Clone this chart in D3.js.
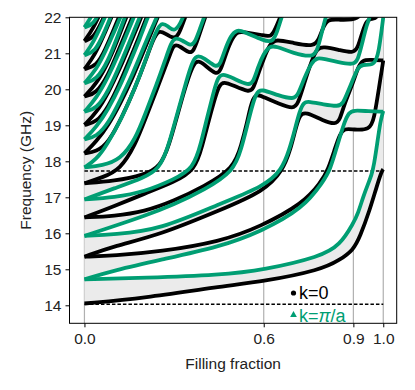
<!DOCTYPE html>
<html lang="en">
<head>
<meta charset="utf-8">
<title>Bands vs filling fraction</title>
<script src="https://d3js.org/d3.v7.min.js"></script>
<style>
  body { margin: 0; background: #fff; }
  text { font-family: "Liberation Sans", Arial, sans-serif; }
</style>
</head>
<body>
<div id="chart"></div>
<script>
// tick values
var xTicks = [0.0, 0.6, 0.9, 1.0];
var yTicks = [14, 15, 16, 17, 18, 19, 20, 21, 22];
// dashed cutoff lines (GHz)
var cutoffs = [14.03, 17.73];

// band edges: [filling fraction, GHz], k = 0 (black), band 1..18
var kZero = [
  [[0,14.05],[0.2,14.2],[0.45,14.52],[0.6,14.66],[0.79,14.98],[0.855,15.26],[0.9,15.54],[0.922,15.9],[0.955,16.65],[0.978,17.3],[0.995,17.73],[1.0,17.78]],
  [[0,15.35],[0.1,15.38],[0.253,15.49],[0.455,15.77],[0.588,16.18],[0.732,16.83],[0.79,17.4],[0.815,17.75],[0.84,18.4],[0.855,18.75],[0.87,18.92],[0.9,18.88],[0.955,18.86],[0.97,19.2],[0.985,20.0],[1.0,20.8]],
  [[0,15.35],[0.1,15.65],[0.253,15.96],[0.455,16.65],[0.6,17.16],[0.665,17.75],[0.69,18.35],[0.705,18.85],[0.72,19.3],[0.74,19.38],[0.8,19.12],[0.84,19.02],[0.855,19.15],[0.87,19.6],[0.9,20.2],[0.915,20.6],[0.93,20.82],[0.96,20.82],[1.0,20.8]],
  [[0,16.44],[0.1,16.48],[0.2,16.6],[0.3,16.9],[0.4,17.3],[0.5,17.8],[0.525,18.45],[0.545,19.1],[0.555,19.5],[0.57,19.9],[0.6,19.78],[0.65,19.6],[0.7,19.45],[0.715,19.6],[0.735,20.15],[0.76,20.8],[0.78,21.15],[0.8,21.18],[0.85,21.1],[0.9,21.0],[0.915,21.15],[0.93,21.6],[0.945,21.92],[0.96,21.96],[0.98,21.96],[0.99,22.3],[1,23]],
  [[0,16.44],[0.1,16.75],[0.2,17.1],[0.3,17.42],[0.37,17.75],[0.395,18.45],[0.415,19.1],[0.435,19.7],[0.45,20.1],[0.465,20.22],[0.5,20.1],[0.55,19.92],[0.565,20.0],[0.58,20.4],[0.6,20.85],[0.62,21.25],[0.64,21.4],[0.7,21.28],[0.77,21.18],[0.785,21.4],[0.8,21.75],[0.815,21.95],[0.85,21.93],[0.92,21.92],[0.935,22.3],[0.96,23],[1,26]],
  [[0,17.39],[0.1,17.45],[0.2,17.62],[0.255,17.85],[0.285,18.5],[0.305,19.1],[0.325,19.7],[0.345,20.25],[0.365,20.7],[0.38,20.8],[0.4,20.7],[0.44,20.4],[0.455,20.5],[0.47,20.9],[0.49,21.35],[0.51,21.6],[0.53,21.6],[0.6,21.5],[0.625,21.45],[0.64,21.7],[0.655,22.0],[0.67,22.3],[0.7,23],[1,26]],
  [[0,17.39],[0.06,17.55],[0.12,17.77],[0.17,18.45],[0.205,19.2],[0.24,19.95],[0.27,20.6],[0.29,21.05],[0.3,21.25],[0.32,21.2],[0.35,21.0],[0.365,21.05],[0.38,21.4],[0.4,21.9],[0.42,22.4],[0.45,23],[1,26]],
  [[0,18.22],[0.04,18.27],[0.08,18.5],[0.13,19.3],[0.17,20.05],[0.205,20.8],[0.23,21.4],[0.25,21.65],[0.27,21.55],[0.3,21.4],[0.315,21.5],[0.335,21.95],[0.35,22.3],[0.38,23],[1,26]],
  [[0,18.22],[0.04,18.55],[0.08,19.0],[0.12,19.6],[0.16,20.3],[0.19,20.9],[0.22,21.5],[0.245,22.0],[0.265,22.4],[0.29,23],[1,26]],
  [[0,19.01],[0.04,19.08],[0.08,19.5],[0.12,20.2],[0.155,20.9],[0.185,21.5],[0.21,22.05],[0.23,22.4],[0.26,23],[1,26]],
  [[0,19.01],[0.04,19.35],[0.08,19.9],[0.12,20.6],[0.15,21.2],[0.18,21.8],[0.2,22.2],[0.23,23],[1,26]],
  [[0,19.8],[0.04,19.88],[0.08,20.4],[0.11,21.0],[0.14,21.6],[0.165,22.1],[0.18,22.4],[0.21,23],[1,26]],
  [[0,19.8],[0.04,20.15],[0.08,20.75],[0.11,21.35],[0.135,21.9],[0.15,22.2],[0.18,23],[1,26]],
  [[0,20.56],[0.04,20.64],[0.07,21.1],[0.1,21.7],[0.12,22.1],[0.14,22.5],[0.17,23],[1,26]],
  [[0,20.56],[0.035,20.95],[0.065,21.5],[0.09,22.0],[0.11,22.4],[0.14,23],[1,26]],
  [[0,21.34],[0.03,21.42],[0.06,21.9],[0.08,22.3],[0.11,23],[1,26]],
  [[0,21.34],[0.03,21.7],[0.055,22.15],[0.075,22.5],[0.1,23],[1,26]],
  [[0,22.1],[0.03,22.2],[0.06,23],[1,26]]
];

// band edges, k = pi/a (green), band 1..18
var kPi = [
  [[0,14.72],[0.2,14.76],[0.455,14.84],[0.6,14.98],[0.79,15.35],[0.855,15.67],[0.9,16.28],[0.916,16.56],[0.933,17.02],[0.95,17.39],[0.961,17.62],[0.969,17.9],[0.98,18.5],[0.99,19.1],[1.0,19.4]],
  [[0,14.72],[0.1,14.97],[0.253,15.26],[0.455,15.63],[0.588,16.04],[0.732,16.69],[0.8,17.45],[0.822,17.76],[0.845,18.4],[0.87,19.1],[0.885,19.35],[0.9,19.42],[0.95,19.39],[1.0,19.38]],
  [[0,15.93],[0.1,15.97],[0.253,16.1],[0.455,16.83],[0.6,17.3],[0.66,17.75],[0.685,18.3],[0.705,18.9],[0.72,19.4],[0.735,19.65],[0.75,19.66],[0.8,19.58],[0.85,19.52],[0.865,19.6],[0.88,19.9],[0.9,20.3],[0.915,20.6],[0.93,20.7],[0.97,20.65],[0.985,21.0],[1.0,22.0]],
  [[0,15.93],[0.1,16.2],[0.2,16.48],[0.3,16.8],[0.4,17.2],[0.5,17.72],[0.525,18.35],[0.545,19.0],[0.56,19.5],[0.575,19.9],[0.59,20.02],[0.65,19.82],[0.7,19.72],[0.715,19.85],[0.735,20.3],[0.76,20.75],[0.78,20.88],[0.8,20.85],[0.85,20.75],[0.9,20.68],[0.915,20.8],[0.93,21.3],[0.945,21.8],[0.955,22.0],[0.965,22.3],[1,23]],
  [[0,16.94],[0.1,17.0],[0.2,17.15],[0.3,17.5],[0.365,17.8],[0.39,18.5],[0.41,19.2],[0.43,19.85],[0.445,20.3],[0.46,20.45],[0.5,20.3],[0.55,20.1],[0.565,20.2],[0.58,20.6],[0.6,21.0],[0.62,21.2],[0.64,21.2],[0.7,21.0],[0.765,20.88],[0.78,21.1],[0.795,21.6],[0.81,22.1],[0.83,22.5],[0.86,23],[1,26]],
  [[0,16.94],[0.1,17.25],[0.2,17.55],[0.25,17.78],[0.28,18.4],[0.3,19.0],[0.32,19.6],[0.34,20.2],[0.36,20.75],[0.375,20.95],[0.4,20.88],[0.44,20.6],[0.455,20.7],[0.47,21.1],[0.49,21.5],[0.51,21.65],[0.53,21.62],[0.6,21.35],[0.63,21.3],[0.645,21.6],[0.66,22.0],[0.675,22.4],[0.7,23],[1,26]],
  [[0,17.83],[0.06,17.88],[0.12,18.05],[0.17,18.6],[0.205,19.35],[0.24,20.1],[0.27,20.8],[0.29,21.3],[0.305,21.45],[0.33,21.35],[0.355,21.2],[0.37,21.3],[0.385,21.65],[0.405,22.1],[0.42,22.5],[0.45,23],[1,26]],
  [[0,17.83],[0.04,18.05],[0.075,18.45],[0.125,19.2],[0.165,19.95],[0.2,20.7],[0.225,21.3],[0.245,21.7],[0.26,21.85],[0.28,21.75],[0.3,21.6],[0.32,21.8],[0.34,22.2],[0.355,22.5],[0.38,23],[1,26]],
  [[0,18.61],[0.04,18.68],[0.08,19.05],[0.12,19.7],[0.16,20.4],[0.19,21.0],[0.22,21.6],[0.245,22.05],[0.26,22.4],[0.29,23],[1,26]],
  [[0,18.61],[0.04,18.95],[0.08,19.45],[0.12,20.1],[0.155,20.8],[0.185,21.4],[0.21,21.95],[0.23,22.4],[0.26,23],[1,26]],
  [[0,19.38],[0.04,19.45],[0.08,19.95],[0.12,20.7],[0.15,21.3],[0.18,21.9],[0.2,22.3],[0.23,23],[1,26]],
  [[0,19.38],[0.04,19.75],[0.08,20.35],[0.11,20.9],[0.14,21.5],[0.165,22.0],[0.18,22.3],[0.21,23],[1,26]],
  [[0,20.17],[0.04,20.25],[0.08,20.8],[0.11,21.45],[0.135,22.0],[0.15,22.3],[0.18,23],[1,26]],
  [[0,20.17],[0.04,20.55],[0.07,21.05],[0.1,21.6],[0.12,22.0],[0.14,22.4],[0.17,23],[1,26]],
  [[0,20.95],[0.035,21.03],[0.065,21.55],[0.09,22.05],[0.11,22.5],[0.14,23],[1,26]],
  [[0,20.95],[0.03,21.3],[0.06,21.85],[0.08,22.2],[0.11,23],[1,26]],
  [[0,21.72],[0.03,21.8],[0.055,22.2],[0.075,22.5],[0.1,23],[1,26]],
  [[0,21.72],[0.03,22.1],[0.05,22.5],[0.08,23],[1,26]]
];

var BLACK = "#000000";
var GREEN = "#009e73";
var BAND_FILL = "#ebebeb";

var w = 415, h = 390;
var margin = {top: 17.3, right: 18.3, bottom: 66.7, left: 69.5};
var innerW = w - margin.left - margin.right;
var innerH = h - margin.top - margin.bottom;

var svg = d3.select("#chart").append("svg")
  .attr("width", w)
  .attr("height", h);

var x = d3.scaleLinear().domain([-0.05, 1.045]).range([margin.left, w - margin.right]);
var y = d3.scaleLinear().domain([13.5, 22]).range([h - margin.bottom, margin.top]);

svg.append("clipPath").attr("id", "plotclip")
  .append("rect")
  .attr("x", margin.left).attr("y", margin.top)
  .attr("width", innerW).attr("height", innerH);

var plot = svg.append("g").attr("clip-path", "url(#plotclip)");

// vertical grid lines at the ticks
plot.selectAll(".grid").data(xTicks).enter().append("line")
  .attr("class", "grid")
  .attr("x1", d => x(d)).attr("x2", d => x(d))
  .attr("y1", margin.top).attr("y2", h - margin.bottom)
  .attr("stroke", "#b0b0b0").attr("stroke-width", 1.2);

// shaded bands: region between k=0 and k=pi/a edge of each band (even-odd of two areas)
var below = d3.area()
  .x(d => x(d[0]))
  .y0(h - margin.bottom + 5)
  .y1(d => y(d[1]))
  .curve(d3.curveBasis);

kZero.forEach(function(edge, i) {
  plot.append("path")
    .attr("d", below(edge) + below(kPi[i]))
    .attr("fill", BAND_FILL)
    .attr("fill-rule", "evenodd")
    .attr("stroke", "none");
});

// dashed cutoffs
plot.selectAll(".cutoff").data(cutoffs).enter().append("line")
  .attr("class", "cutoff")
  .attr("x1", x(0)).attr("x2", x(1))
  .attr("y1", d => y(d)).attr("y2", d => y(d))
  .attr("stroke", "#000").attr("stroke-width", 1.4)
  .attr("stroke-dasharray", "3.5,2");

var line = d3.line()
  .x(d => x(d[0]))
  .y(d => y(d[1]))
  .curve(d3.curveBasis);

plot.selectAll(".k0").data(kZero).enter().append("path")
  .attr("class", "k0")
  .attr("d", line)
  .attr("fill", "none")
  .attr("stroke", BLACK)
  .attr("stroke-width", 3.8);

plot.selectAll(".kpi").data(kPi).enter().append("path")
  .attr("class", "kpi")
  .attr("d", line)
  .attr("fill", "none")
  .attr("stroke", GREEN)
  .attr("stroke-width", 3.8);

// frame
svg.append("rect")
  .attr("x", margin.left).attr("y", margin.top)
  .attr("width", innerW).attr("height", innerH)
  .attr("fill", "none").attr("stroke", "#000").attr("stroke-width", 1);

// axes
var yAxis = svg.append("g")
  .attr("transform", `translate(${margin.left},0)`)
  .call(d3.axisLeft(y).tickValues(yTicks).tickSize(4).tickPadding(4).tickFormat(d3.format("d")));
var xAxis = svg.append("g")
  .attr("transform", `translate(0,${h - margin.bottom})`)
  .call(d3.axisBottom(x).tickValues(xTicks).tickSize(4).tickPadding(6).tickFormat(d3.format(".1f")));

[xAxis, yAxis].forEach(function(ax) {
  ax.select(".domain").remove();
  ax.selectAll("text").attr("font-size", "15.5px").attr("fill", "#222")
    .style("font-family", "'Liberation Sans', Arial, sans-serif");
  ax.selectAll("line").attr("stroke", "#000");
});

svg.append("text")
  .text("Filling fraction")
  .attr("x", (x(-0.05) + x(1.045)) / 2)
  .attr("y", 369)
  .attr("text-anchor", "middle")
  .attr("font-size", "15.5px").attr("fill", "#222");

svg.append("text")
  .text("Frequency (GHz)")
  .attr("transform", "translate(31," + (margin.top + innerH / 2) + ") rotate(-90)")
  .attr("text-anchor", "middle")
  .attr("font-size", "15.5px").attr("fill", "#222");

// legend
var legend = svg.append("g");
legend.append("circle").attr("cx", 293.5).attr("cy", 293).attr("r", 2.6).attr("fill", BLACK);
legend.append("text").attr("x", 299).attr("y", 298.5)
  .attr("font-size", "18px").attr("fill", BLACK).text("k=0");
legend.append("path")
  .attr("d", d3.symbol().type(d3.symbolTriangle).size(20)())
  .attr("transform", "translate(293.5,315)")
  .attr("fill", GREEN);
var piLabel = legend.append("text").attr("x", 299).attr("y", 321.5)
  .attr("font-size", "18px").attr("fill", GREEN);
piLabel.append("tspan").text("k=");
piLabel.append("tspan").attr("font-style", "italic").text("π");
piLabel.append("tspan").text("/a");
</script>
</body>
</html>
